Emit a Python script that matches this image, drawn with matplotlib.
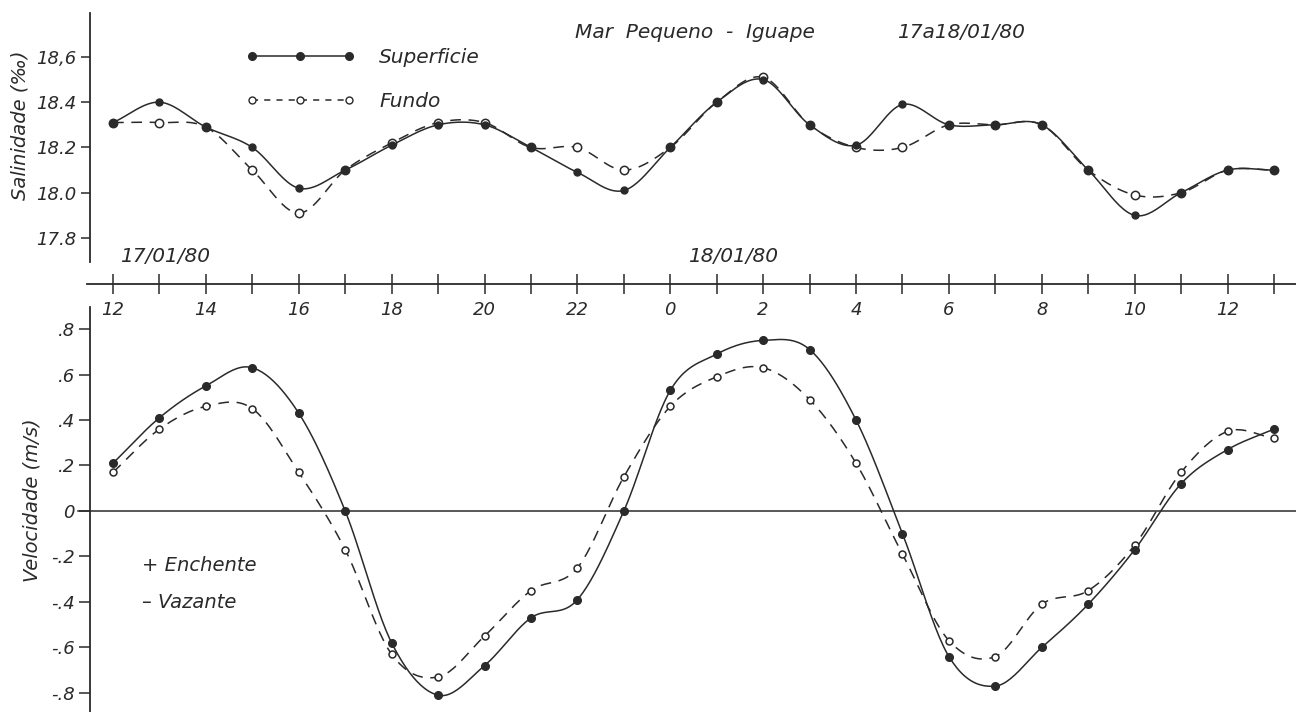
import numpy as np
import matplotlib
matplotlib.use('Agg')
import matplotlib.pyplot as plt

# ---------------------------------------------------------
# Data (Mar Pequeno - Iguape, 17-18/01/80)
# ---------------------------------------------------------
hours = [12, 13, 14, 15, 16, 17, 18, 19, 20, 21, 22, 23,
         0, 1, 2, 3, 4, 5, 6, 7, 8, 9, 10, 11, 12, 13]

sal_superficie = [18.31, 18.40, 18.29, 18.20, 18.02, 18.10, 18.21, 18.30, 18.30,
                  18.20, 18.09, 18.01, 18.20, 18.40, 18.50, 18.30, 18.21, 18.39,
                  18.30, 18.30, 18.30, 18.10, 17.90, 18.00, 18.10, 18.10]
sal_fundo = [18.31, 18.31, 18.29, 18.10, 17.91, 18.10, 18.22, 18.31, 18.31,
             18.20, 18.20, 18.10, 18.20, 18.40, 18.51, 18.30, 18.20, 18.20,
             18.30, 18.30, 18.30, 18.10, 17.99, 18.00, 18.10, 18.10]

vel_superficie = [0.21, 0.41, 0.55, 0.63, 0.43, 0.00, -0.58, -0.81, -0.68,
                  -0.47, -0.39, 0.00, 0.53, 0.69, 0.75, 0.71, 0.40, -0.10,
                  -0.64, -0.77, -0.60, -0.41, -0.17, 0.12, 0.27, 0.36]
vel_fundo = [0.17, 0.36, 0.46, 0.45, 0.17, -0.17, -0.63, -0.73, -0.55,
             -0.35, -0.25, 0.15, 0.46, 0.59, 0.63, 0.49, 0.21, -0.19,
             -0.57, -0.64, -0.41, -0.35, -0.15, 0.17, 0.35, 0.32]

sal_ticks = [17.8, 18.0, 18.2, 18.4, 18.6]
sal_ticklabels = ['17.8', '18.0', '18.2', '18.4', '18,6']
vel_ticks = [-0.8, -0.6, -0.4, -0.2, 0, 0.2, 0.4, 0.6, 0.8]
vel_ticklabels = ['-.8', '-.6', '-.4', '-.2', '0', '.2', '.4', '.6', '.8']


def smooth(x, y, n=24):
    # Catmull-Rom style cubic through the measured points (hand-drawn look)
    x = np.asarray(x, float)
    y = np.asarray(y, float)
    m = np.gradient(y, x)
    xs, ys = [], []
    t = np.linspace(0, 1, n, endpoint=False)
    h00 = 2 * t**3 - 3 * t**2 + 1
    h10 = t**3 - 2 * t**2 + t
    h01 = -2 * t**3 + 3 * t**2
    h11 = t**3 - t**2
    for i in range(len(x) - 1):
        h = x[i + 1] - x[i]
        xs.append(x[i] + t * h)
        ys.append(h00 * y[i] + h10 * h * m[i] + h01 * y[i + 1] + h11 * h * m[i + 1])
    xs.append([x[-1]])
    ys.append([y[-1]])
    return np.concatenate(xs), np.concatenate(ys)


ink = '#2a2a2a'
plt.rcParams['font.family'] = 'DejaVu Sans'
plt.rcParams['font.style'] = 'italic'
plt.rcParams['text.color'] = ink
plt.rcParams['axes.edgecolor'] = ink
plt.rcParams['xtick.color'] = ink
plt.rcParams['ytick.color'] = ink

W, H = 1296, 712
fig = plt.figure(figsize=(12.96, 7.12), dpi=100)
fig.patch.set_facecolor('white')

idx = np.arange(len(hours))
px_per_h = 46.44
x0_px = 113


def xlim_for(left_px, right_px):
    return ((left_px - x0_px) / px_per_h, (right_px - x0_px) / px_per_h)


# top panel: salinity
ax1 = fig.add_axes([90 / W, (H - 262) / H, (W - 90) / W, 249 / H])
ax1.set_xlim(*xlim_for(90, W))
ax1.set_ylim(17.694, 18.794)

# hour axis between panels
axh = fig.add_axes([87 / W, (H - 284) / H, (W - 87) / W, 0.0001])
axh.set_xlim(*xlim_for(87, W))

# bottom panel: velocity
ax2 = fig.add_axes([90 / W, 0, (W - 90) / W, (H - 307) / H])
ax2.set_xlim(*xlim_for(90, W))
ax2.set_ylim(-0.884, 0.897)

line_kw = dict(color=ink, lw=1.1)
fundo_kw = dict(color=ink, lw=1.1, dashes=(7, 5))

# salinity curves
xs, ys = smooth(idx, sal_fundo)
ax1.plot(xs, ys, **fundo_kw)
xs, ys = smooth(idx, sal_superficie)
ax1.plot(xs, ys, **line_kw)
ax1.plot(idx, sal_fundo, 'o', ms=6, mfc='white', mec=ink, mew=1.1)
ax1.plot(idx, sal_superficie, 'o', ms=5, color=ink)

# velocity curves
xs, ys = smooth(idx, vel_fundo)
ax2.plot(xs, ys, **fundo_kw)
xs, ys = smooth(idx, vel_superficie)
ax2.plot(xs, ys, **line_kw)
ax2.plot(idx, vel_fundo, 'o', ms=5, mfc='white', mec=ink, mew=1.1)
ax2.plot(idx, vel_superficie, 'o', ms=5.5, color=ink)
ax2.axhline(0, xmin=-0.01, color=ink, lw=1.1, clip_on=False)

# spines and ticks
for ax in (ax1, ax2):
    for s in ('top', 'right', 'bottom'):
        ax.spines[s].set_visible(False)
    ax.spines['left'].set_linewidth(1.3)
    ax.set_xticks([])
    ax.patch.set_alpha(0)

ax1.set_yticks(sal_ticks)
ax1.set_yticklabels(sal_ticklabels)
ax1.tick_params(axis='y', direction='out', length=6.5, width=1.1, pad=3, labelsize=13)

ax2.set_yticks(vel_ticks)
ax2.set_yticklabels(vel_ticklabels)
ax2.tick_params(axis='y', direction='out', length=8, width=1.1, pad=3, labelsize=13)

for s in ('top', 'right', 'left'):
    axh.spines[s].set_visible(False)
axh.spines['bottom'].set_linewidth(1.3)
axh.set_yticks([])
axh.set_xticks(idx)
axh.set_xticklabels([str(h) if i % 2 == 0 else '' for i, h in enumerate(hours)])
axh.tick_params(axis='x', direction='inout', length=14, width=1.1, pad=5, labelsize=13)

# labels
fig.text(20 / W, 1 - 125 / H, 'Salinidade (‰)', rotation=90, ha='center', va='center', fontsize=14)
fig.text(32 / W, 1 - 500 / H, 'Velocidade (m/s)', rotation=90, ha='center', va='center', fontsize=14)
fig.text(575 / W, 1 - 32 / H, 'Mar  Pequeno  -  Iguape', ha='left', va='center', fontsize=14.5)
fig.text(897 / W, 1 - 32 / H, '17a18/01/80', ha='left', va='center', fontsize=14.5)
fig.text(120 / W, 1 - 256 / H, '17/01/80', ha='left', va='center', fontsize=14.5)
fig.text(688 / W, 1 - 256 / H, '18/01/80', ha='left', va='center', fontsize=14.5)

# legend
h1, = ax1.plot([], [], '-o', color=ink, lw=1.1, ms=5.5)
h2, = ax1.plot([], [], 'o', ls='--', dashes=(4, 4), color=ink, lw=1.1, ms=5, mfc='white', mec=ink)
fig.legend([h1, h2], ['Superficie', 'Fundo'], loc='upper left',
           bbox_to_anchor=(236 / W, 1 - 38 / H), frameon=False, numpoints=3,
           handlelength=5.4, handletextpad=1.2, labelspacing=1.25, fontsize=14.5,
           borderpad=0)

ax2.text(0.043, 0.361, '+ Enchente', transform=ax2.transAxes, ha='left', va='center', fontsize=14)
ax2.text(0.043, 0.27, '\u2013 Vazante', transform=ax2.transAxes, ha='left', va='center', fontsize=14)

fig.savefig('out.png', dpi=100, facecolor='white')
